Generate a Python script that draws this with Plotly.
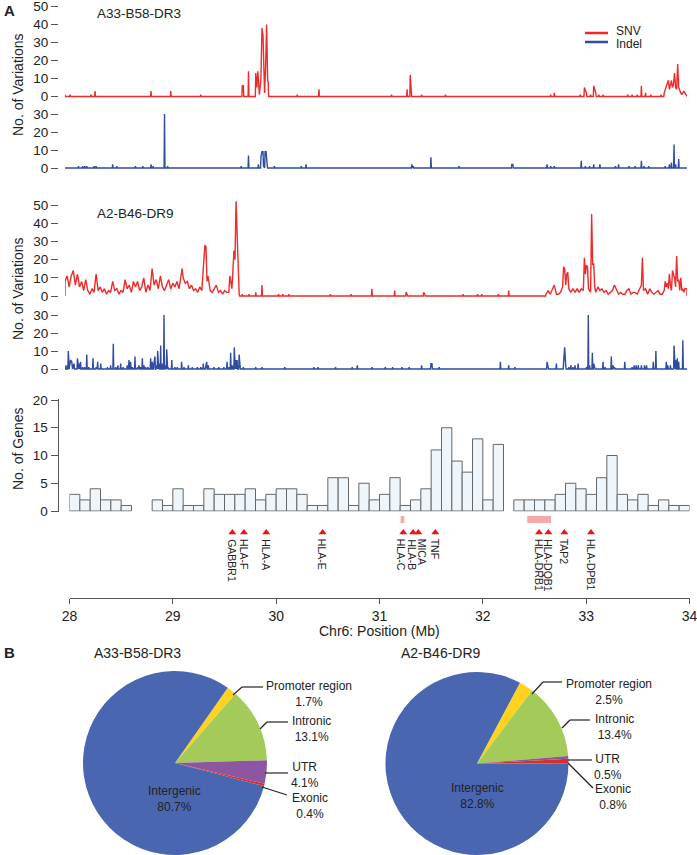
import plotly.graph_objects as go

W, H = 697, 855
FONT = "Liberation Sans, Arial, sans-serif"
TXT = "#222222"

# ---------------- data ----------------
# A33-B58-DR3 SNV counts (position Mb, count); unlisted bins are 0
a33_snv_pos = [28.00, 28.05, 28.25, 28.29, 28.83, 29.02, 29.31, 29.71, 29.72, 29.77,
               29.84, 29.85, 29.86, 29.875, 29.89, 29.90, 29.91, 29.92, 29.925, 29.935,
               29.945, 29.955, 29.96, 30.24, 30.45, 31.15, 31.30, 31.33, 31.34, 31.44,
               31.67, 32.685, 32.72, 32.97, 33.01, 33.03, 33.07, 33.10, 33.12, 33.15,
               33.19, 33.43, 33.47, 33.52, 33.56, 33.60, 33.65, 33.75, 33.78, 33.80,
               33.82, 33.83, 33.84, 33.85, 33.86, 33.87, 33.88, 33.89, 33.90, 33.91,
               33.92, 33.93, 33.94, 33.95, 33.96, 33.97, 33.98, 33.99]
a33_snv_val = [1, 1, 1, 3, 3, 3, 1, 6, 6, 14,
               13, 5, 14, 1, 10, 38, 34, 18, 2, 16,
               40, 9, 8, 1, 4, 1, 4, 12, 1, 1,
               1, 1, 2, 1, 5, 2, 1, 6, 2, 1,
               1, 1, 1, 1, 6, 2, 1, 1, 2, 5,
               9, 4, 7, 9, 5, 7, 13, 5, 4, 18,
               5, 3, 2, 1, 2, 3, 2, 1]

# A33-B58-DR3 Indel counts
a33_indel_pos = [28.13, 28.17, 28.19, 28.21, 28.28, 28.30, 28.46, 28.50, 28.68, 28.75,
                 28.83, 28.85, 28.96, 28.99, 29.70, 29.77, 29.865, 29.89, 29.90, 29.91,
                 29.915, 29.93, 29.94, 29.95, 30.02, 30.28, 30.325, 31.345, 31.36, 31.53,
                 31.80, 32.31, 32.32, 32.65, 32.685, 32.72, 32.98, 33.02, 33.06, 33.10,
                 33.16, 33.31, 33.34, 33.44, 33.50, 33.56, 33.585, 33.63, 33.79, 33.83,
                 33.85, 33.875, 33.89, 33.92]
a33_indel_val = [1, 1, 1, 1, 1, 1, 2, 1, 1, 1,
                 2, 1, 30, 1, 1, 7, 2, 6, 9, 9,
                 1, 9, 9, 2, 1, 1, 2, 2, 1, 6,
                 1, 2, 2, 2, 1, 1, 4, 1, 1, 2,
                 2, 1, 2, 1, 1, 4, 1, 1, 1, 2,
                 3, 13, 2, 5]

# A2-B46-DR9 SNV counts
a2_snv_pos = [28.00, 28.02, 28.04, 28.06, 28.08, 28.10, 28.12, 28.14, 28.16, 28.18,
              28.20, 28.22, 28.24, 28.26, 28.28, 28.30, 28.32, 28.34, 28.36, 28.38,
              28.40, 28.42, 28.44, 28.46, 28.48, 28.50, 28.52, 28.54, 28.56, 28.58,
              28.60, 28.62, 28.64, 28.66, 28.68, 28.70, 28.72, 28.74, 28.76, 28.78,
              28.80, 28.82, 28.84, 28.86, 28.88, 28.90, 28.92, 28.94, 28.96, 28.98,
              29.00, 29.02, 29.04, 29.06, 29.08, 29.10, 29.12, 29.13, 29.14, 29.16,
              29.18, 29.20, 29.22, 29.24, 29.26, 29.28, 29.30, 29.32, 29.34, 29.35,
              29.36, 29.37, 29.38, 29.40, 29.42, 29.44, 29.46, 29.48, 29.50, 29.52,
              29.54, 29.56, 29.58, 29.59, 29.61, 29.63, 29.64, 29.65, 29.66, 29.67,
              29.68, 29.71, 29.775, 29.84, 29.90, 30.06, 30.10, 30.16, 30.56, 30.76,
              30.96, 31.18, 31.29, 31.30, 31.46, 31.47, 31.84, 31.98, 32.02, 32.18,
              32.28, 32.64, 32.66, 32.68, 32.70, 32.72, 32.74, 32.76, 32.78, 32.80,
              32.81, 32.82, 32.83, 32.84, 32.85, 32.86, 32.88, 32.90, 32.92, 32.94,
              32.96, 32.98, 33.00, 33.01, 33.02, 33.03, 33.04, 33.05, 33.06, 33.07,
              33.08, 33.09, 33.10, 33.11, 33.12, 33.14, 33.16, 33.18, 33.20, 33.22,
              33.24, 33.26, 33.28, 33.30, 33.32, 33.34, 33.36, 33.38, 33.40, 33.42,
              33.44, 33.46, 33.48, 33.50, 33.52, 33.54, 33.56, 33.57, 33.58, 33.60,
              33.62, 33.64, 33.66, 33.68, 33.70, 33.72, 33.74, 33.76, 33.78, 33.79,
              33.80, 33.81, 33.82, 33.83, 33.84, 33.85, 33.86, 33.87, 33.88, 33.89,
              33.90, 33.91, 33.92, 33.93, 33.94, 33.95, 33.96, 33.97, 33.98, 34.00]
a2_snv_val = [8, 11, 5, 11, 14, 6, 12, 5, 8, 3,
              9, 3, 1, 4, 2, 12, 3, 5, 2, 4,
              1, 3, 2, 8, 3, 4, 1, 3, 2, 9,
              4, 6, 2, 8, 5, 8, 3, 5, 10, 2,
              6, 3, 15, 6, 9, 4, 11, 5, 3, 6,
              9, 4, 7, 5, 8, 4, 10, 15, 10, 7,
              8, 4, 6, 3, 4, 2, 5, 3, 20, 28,
              27, 8, 11, 3, 2, 4, 6, 2, 3, 1,
              3, 2, 2, 11, 4, 25, 20, 52, 30, 8,
              1, 1, 1, 2, 6, 1, 1, 1, 1, 1,
              4, 3, 2, 1, 2, 1, 1, 1, 1, 1,
              3, 1, 3, 1, 4, 6, 1, 1, 2, 5,
              16, 15, 6, 12, 13, 4, 2, 4, 2, 4,
              2, 4, 3, 21, 12, 17, 16, 4, 3, 2,
              45, 17, 18, 5, 2, 5, 3, 4, 2, 3,
              1, 2, 3, 6, 3, 1, 2, 1, 1, 3,
              4, 1, 2, 2, 1, 4, 6, 21, 3, 4,
              1, 4, 2, 1, 2, 3, 1, 1, 3, 8,
              5, 7, 4, 12, 6, 3, 14, 12, 10, 5,
              22, 8, 9, 3, 10, 3, 4, 2, 4, 4]

# A2-B46-DR9 Indel counts
a2_indel_pos = [28.00, 28.02, 28.032, 28.045, 28.055, 28.065, 28.077, 28.087, 28.12, 28.135,
                28.15, 28.17, 28.19, 28.21, 28.23, 28.27, 28.30, 28.315, 28.345, 28.41,
                28.44, 28.466, 28.49, 28.51, 28.537, 28.56, 28.60, 28.617, 28.633, 28.65,
                28.675, 28.70, 28.714, 28.73, 28.746, 28.762, 28.778, 28.80, 28.826, 28.842,
                28.858, 28.868, 28.88, 28.894, 28.907, 28.923, 28.936, 28.955, 28.968, 28.981,
                28.994, 29.03, 29.06, 29.083, 29.125, 29.148, 29.19, 29.228, 29.277, 29.31,
                29.334, 29.357, 29.367, 29.383, 29.437, 29.485, 29.533, 29.563, 29.582, 29.598,
                29.614, 29.633, 29.646, 29.66, 29.68, 29.69, 29.72, 29.84, 29.90, 30.12,
                30.40, 30.44, 30.61, 30.77, 30.82, 30.96, 31.09, 31.16, 31.25, 31.32,
                31.44, 31.53, 31.54, 31.61, 32.20, 32.28, 32.34, 32.65, 32.66, 32.74,
                32.81, 32.82, 32.83, 32.86, 32.88, 32.90, 32.92, 32.95, 33.03, 33.048,
                33.06, 33.087, 33.10, 33.11, 33.19, 33.21, 33.27, 33.285, 33.30, 33.40,
                33.47, 33.49, 33.51, 33.53, 33.56, 33.59, 33.61, 33.675, 33.70, 33.80,
                33.815, 33.84, 33.875, 33.89, 33.906, 33.92, 33.96]
a2_indel_val = [2, 2, 10, 2, 5, 4, 1, 3, 6, 3,
                4, 1, 1, 8, 1, 6, 1, 4, 3, 1,
                2, 14, 1, 2, 3, 1, 2, 5, 4, 1,
                7, 1, 2, 1, 6, 2, 1, 1, 6, 4,
                3, 7, 2, 10, 3, 13, 3, 30, 2, 11,
                1, 5, 1, 1, 4, 1, 2, 1, 1, 1,
                3, 2, 4, 2, 1, 1, 1, 4, 1, 9,
                2, 12, 5, 5, 8, 1, 1, 1, 1, 1,
                1, 1, 1, 1, 2, 1, 1, 1, 1, 1,
                2, 3, 3, 1, 4, 2, 1, 4, 2, 3,
                4, 12, 2, 1, 2, 1, 2, 3, 1, 30,
                2, 9, 3, 1, 4, 1, 7, 2, 1, 4,
                1, 2, 2, 2, 2, 2, 2, 4, 10, 4,
                2, 2, 13, 5, 6, 4, 16]

# Number of genes per 0.1 Mb bin (bin left edges)
gene_bin_left = [28.0, 28.1, 28.2, 28.3, 28.4, 28.5, 28.6, 28.7, 28.8, 28.9,
                 29.0, 29.1, 29.2, 29.3, 29.4, 29.5, 29.6, 29.7, 29.8, 29.9,
                 30.0, 30.1, 30.2, 30.3, 30.4, 30.5, 30.6, 30.7, 30.8, 30.9,
                 31.0, 31.1, 31.2, 31.3, 31.4, 31.5, 31.6, 31.7, 31.8, 31.9,
                 32.0, 32.1, 32.2, 32.3, 32.4, 32.5, 32.6, 32.7, 32.8, 32.9,
                 33.0, 33.1, 33.2, 33.3, 33.4, 33.5, 33.6, 33.7, 33.8, 33.9]
gene_counts = [3, 2, 4, 2, 2, 1, 0, 0, 2, 1,
               4, 1, 1, 4, 3, 3, 3, 4, 2, 3,
               4, 4, 3, 1, 1, 6, 6, 1, 5, 2,
               3, 6, 1, 2, 4, 11, 15, 9, 7, 13,
               2, 12, 0, 2, 2, 2, 2, 3, 5, 4,
               3, 6, 10, 3, 2, 3, 1, 2, 1, 1]

gene_names = ["GABBR1", "HLA-F", "HLA-A", "HLA-E", "HLA-C", "HLA-B", "MICA", "TNF",
              "HLA-DRB1", "HLA-DQB1", "TAP2", "HLA-DPB1"]
gene_pos = [29.576, 29.688, 29.904, 30.45, 31.23, 31.325, 31.376, 31.54,
            32.544, 32.634, 32.789, 33.047]
region_start = [31.205, 32.43]
region_end = [31.24, 32.66]

x_ticks = [28, 29, 30, 31, 32, 33, 34]

pie_labels = ["Promoter region", "Intronic", "UTR", "Exonic", "Intergenic"]
pie_a33 = [1.7, 13.1, 4.1, 0.4, 80.7]
pie_a2 = [2.5, 13.4, 0.5, 0.8, 82.8]
pie_colors = ["#FFD21F", "#A4CB5A", "#8D56A2", "#D3302C", "#4B66B0"]

RED = "#EF2A2A"
BLUE = "#2F4C9E"


# ---------------- helpers ----------------
def X(px):
    return px / W


def Y(py):
    return 1 - py / H


def dom(p0, ptop, vtop, lo, hi):
    s = (p0 - ptop) / vtop
    bottom = p0 - lo * s
    top = p0 - hi * s
    return [Y(bottom), Y(top)]


def spike_line(pos, val, join):
    pairs = sorted(zip(pos, val))
    xs, ys = [28.0], [0]
    n = len(pairs)
    for i, (p, v) in enumerate(pairs):
        if i == 0 or p - pairs[i - 1][0] > join:
            xs.append(max(28.0, p - 0.004)); ys.append(0)
        xs.append(p); ys.append(v)
        if i == n - 1 or pairs[i + 1][0] - p > join:
            xs.append(min(34.0, p + 0.004)); ys.append(0)
    xs.append(34.0); ys.append(0)
    return xs, ys


fig = go.Figure()

series = [
    (a33_snv_pos, a33_snv_val, RED, "y", 0.021),
    (a33_indel_pos, a33_indel_val, BLUE, "y2", 0.011),
    (a2_snv_pos, a2_snv_val, RED, "y3", 0.021),
    (a2_indel_pos, a2_indel_val, BLUE, "y4", 0.011),
]
for pos, val, col, ya, join in series:
    xs, ys = spike_line(pos, val, join)
    fig.add_trace(go.Scatter(x=xs, y=ys, mode="lines", xaxis="x2", yaxis=ya,
                             line=dict(color=col, width=1.4), hoverinfo="skip",
                             showlegend=False))

# gene histogram
fig.add_trace(go.Bar(x=[b + 0.05 for b in gene_bin_left],
                     y=[c if c > 0 else None for c in gene_counts],
                     width=0.1, xaxis="x", yaxis="y5",
                     marker=dict(color="#EEF5FB", line=dict(color="#666666", width=1)),
                     hoverinfo="skip", showlegend=False))

# gene markers
fig.add_trace(go.Scatter(x=gene_pos, y=[532.5] * len(gene_pos), mode="markers",
                         xaxis="x", yaxis="y6",
                         marker=dict(symbol="triangle-up", size=7, color="#E8161B"),
                         hoverinfo="skip", showlegend=False))

# pies
fig.add_trace(go.Pie(values=pie_a33, labels=pie_labels, sort=False, direction="clockwise",
                     rotation=35, textinfo="none", hoverinfo="skip",
                     marker=dict(colors=pie_colors, line=dict(width=0)),
                     domain=dict(x=[X(83), X(267)], y=[0, Y(671)]), showlegend=False))
fig.add_trace(go.Pie(values=pie_a2, labels=pie_labels, sort=False, direction="clockwise",
                     rotation=28, textinfo="none", hoverinfo="skip",
                     marker=dict(colors=pie_colors, line=dict(width=0)),
                     domain=dict(x=[X(385), X(569)], y=[0, Y(672)]), showlegend=False))

yax_common = dict(anchor="free", position=X(58), showgrid=False, zeroline=False,
                  showline=False, ticks="outside", ticklen=7, tickcolor="#555555",
                  tickwidth=1, automargin=False, ticklabeloverflow="allow",
                  tickfont=dict(size=13.5, color=TXT, family=FONT))

fig.update_layout(
    template="none",
    width=W, height=H, margin=dict(l=0, r=0, t=0, b=0, pad=0, autoexpand=False),
    paper_bgcolor="white", plot_bgcolor="rgba(0,0,0,0)",
    font=dict(family=FONT, color=TXT), showlegend=False, bargap=0,
    xaxis=dict(domain=[X(69.5), X(689.5)], range=[28, 34], anchor="y6",
               tickvals=x_ticks, ticks="outside", ticklen=5, tickcolor="#555555",
               showline=True, linecolor="#555555", linewidth=1, showgrid=False,
               zeroline=False, automargin=False, ticklabeloverflow="allow",
               tickfont=dict(size=14, color=TXT, family=FONT)),
    xaxis2=dict(domain=[X(65), X(687)], range=[28, 34], anchor="y", visible=False,
                automargin=False),
    yaxis=dict(domain=dom(96.5, 6.5, 50, -1, 52), range=[-1, 52],
               tickvals=[0, 10, 20, 30, 40, 50], **yax_common),
    yaxis2=dict(domain=dom(168, 114, 30, -1, 31), range=[-1, 31],
                tickvals=[0, 10, 20, 30], **yax_common),
    yaxis3=dict(domain=dom(296, 205, 50, -1, 53), range=[-1, 53],
                tickvals=[0, 10, 20, 30, 40, 50], **yax_common),
    yaxis4=dict(domain=dom(369, 315, 30, -1, 31), range=[-1, 31],
                tickvals=[0, 10, 20, 30], **yax_common),
    yaxis5=dict(domain=dom(511, 400, 20, -0.1, 20.1), range=[-0.1, 20.1],
                tickvals=[0, 5, 10, 15, 20], anchor="free", position=X(57.5),
                showgrid=False, zeroline=False, showline=True, linecolor="#555555",
                ticks="outside", ticklen=7, tickcolor="#555555", automargin=False,
                ticklabeloverflow="allow",
                tickfont=dict(size=13.5, color=TXT, family=FONT)),
    yaxis6=dict(domain=[Y(598), Y(512)], range=[598, 512], anchor="x", visible=False,
                automargin=False),
)

shapes = []
for s0, s1 in zip(region_start, region_end):
    shapes.append(dict(type="rect", xref="x", yref="y6", x0=s0, x1=s1, y0=516, y1=523,
                       fillcolor="#F7A8A8", line=dict(width=0), layer="above"))
# legend swatches
shapes.append(dict(type="line", xref="paper", yref="paper", x0=X(585), x1=X(608),
                   y0=Y(33), y1=Y(33), line=dict(color=RED, width=2.5)))
shapes.append(dict(type="line", xref="paper", yref="paper", x0=X(585), x1=X(608),
                   y0=Y(42), y1=Y(42), line=dict(color=BLUE, width=2.5)))

# pie leader lines (pixel polylines)
leaders = [
    [(233, 695), (242, 687), (263, 687)],
    [(260, 729), (267, 722), (288, 722)],
    [(265, 773), (288, 773)],
    [(262, 787), (287, 795)],
    [(532, 694), (543, 682), (562, 682)],
    [(562, 728), (570, 720), (590, 720)],
    [(568, 760), (592, 760)],
    [(568, 763), (593, 788)],
]
for pts in leaders:
    for (ax, ay), (bx, by) in zip(pts[:-1], pts[1:]):
        shapes.append(dict(type="line", xref="paper", yref="paper", x0=X(ax), y0=Y(ay),
                           x1=X(bx), y1=Y(by), line=dict(color="#222222", width=1.2)))

ann = []


def text(px, py, s, size=14, xanchor="left", yanchor="middle", angle=0, bold=False):
    ann.append(dict(x=X(px), y=Y(py), xref="paper", yref="paper",
                    text=f"<b>{s}</b>" if bold else s, showarrow=False,
                    xanchor=xanchor, yanchor=yanchor, textangle=angle,
                    font=dict(size=size, color=TXT, family=FONT)))


text(2, 10, "A", 15, bold=True)
text(2, 652, "B", 15, bold=True)
text(95, 14, "A33-B58-DR3", 13.5)
text(95, 214, "A2-B46-DR9", 13.5)
text(18, 85, "No. of Variations", 14, xanchor="center", angle=-90)
text(18, 289, "No. of Variations", 14, xanchor="center", angle=-90)
text(18, 449, "No. of Genes", 14, xanchor="center", angle=-90)
text(614, 31, "SNV", 12)
text(614, 43.5, "Indel", 12)
text(379.5, 631, "Chr6: Position (Mb)", 14, xanchor="center")
text(137, 653, "A33-B58-DR3", 14, xanchor="center")
text(441, 653, "A2-B46-DR9", 14, xanchor="center")

pie_text = [
    (309, 693.5, "Promoter region<br>1.7%"), (311, 729, "Intronic<br>13.1%"),
    (305, 774.5, "UTR<br>4.1%"), (310, 806, "Exonic<br>0.4%"),
    (174, 798.5, "Intergenic<br>80.7%"),
    (609, 692, "Promoter region<br>2.5%"), (614, 727, "Intronic<br>13.4%"),
    (608, 767, "UTR<br>0.5%"), (613, 796.5, "Exonic<br>0.8%"),
    (477, 796, "Intergenic<br>82.8%"),
]
for px, py, s in pie_text:
    text(px, py, s, 12, xanchor="center")

# small horizontal nudges (px) for crowded gene labels
label_nudge = {"HLA-C": -2, "HLA-B": -1, "MICA": 4}
px_per_mb = (689.5 - 69.5) / 6
for g, p in zip(gene_names, gene_pos):
    ann.append(dict(x=p + label_nudge.get(g, 0) / px_per_mb, y=537, xref="x", yref="y6",
                    text=g, showarrow=False, xanchor="center", yanchor="top",
                    textangle=90, font=dict(size=10.5, color=TXT, family=FONT)))

fig.update_layout(shapes=shapes, annotations=ann)
fig.write_html("out.html", config={"displayModeBar": False, "staticPlot": True},
               post_script="document.body.style.margin='0px';"
                           "document.body.style.padding='0px';")
